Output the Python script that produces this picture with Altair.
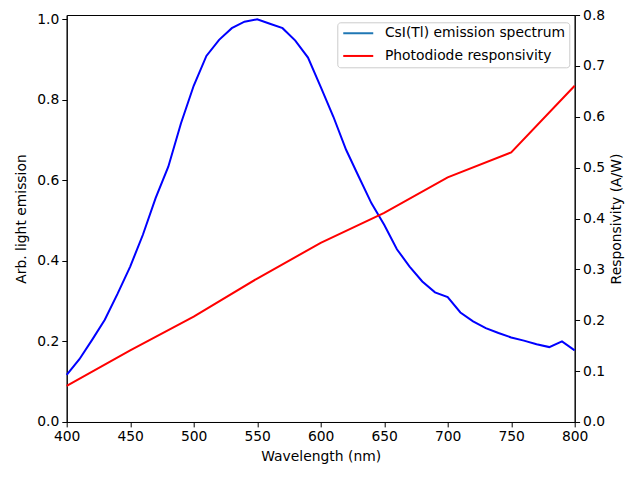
import altair as alt
import pandas as pd

wl_em = [400, 410, 420, 430, 440, 450, 460, 470, 480, 490, 500, 510, 520, 530, 540, 550,
         560, 570, 580, 590, 600, 610, 620, 630, 640, 650, 660, 670, 680, 690, 700, 710,
         720, 730, 740, 750, 760, 770, 780, 790, 800]
emission = [0.117, 0.156, 0.204, 0.254, 0.318, 0.386, 0.465, 0.556, 0.634, 0.742, 0.835,
            0.909, 0.949, 0.978, 0.994, 1.0, 0.989, 0.978, 0.947, 0.905, 0.832, 0.758,
            0.676, 0.609, 0.543, 0.490, 0.429, 0.386, 0.349, 0.322, 0.310, 0.272, 0.250,
            0.233, 0.221, 0.210, 0.202, 0.193, 0.186, 0.200, 0.178]

wl_pd = [400, 450, 500, 550, 600, 650, 700, 750, 800]
responsivity = [0.071, 0.141, 0.207, 0.282, 0.352, 0.411, 0.481, 0.530, 0.661]

names = ["CsI(Tl) emission spectrum", "Photodiode responsivity"]

df_em = pd.DataFrame({"wl": wl_em, "val": emission})
df_pd = pd.DataFrame({"wl": wl_pd, "val": responsivity})

FONT = "DejaVu Sans"
FS = 13.9

color_scale = alt.Scale(domain=names, range=["#1f77b4", "#ff0000"])
legend = alt.Legend(title=None, orient="none", legendX=270.6, legendY=7.3)
x_enc = alt.X("wl:Q", title="Wavelength (nm)",
              scale=alt.Scale(domain=[400, 800], nice=False, zero=False),
              axis=alt.Axis(values=[400, 450, 500, 550, 600, 650, 700, 750, 800], format="d",
                            titlePadding=6))

em = alt.Chart(df_em).mark_line(strokeWidth=2).encode(
    x=x_enc,
    y=alt.Y("val:Q", title="Arb. light emission",
            scale=alt.Scale(domain=[0, 1.0107], nice=False),
            axis=alt.Axis(values=[0, 0.2, 0.4, 0.6, 0.8, 1.0], format=".1f", orient="left",
                          titlePadding=8)),
    color=alt.Color("s:N", scale=color_scale, legend=legend),
    stroke=alt.value("#0000ff"),
).transform_calculate(s="'" + names[0] + "'")

pdl = alt.Chart(df_pd).mark_line(strokeWidth=2).encode(
    x=x_enc,
    y=alt.Y("val:Q", title="Responsivity (A/W)",
            scale=alt.Scale(domain=[0, 0.8], nice=False),
            axis=alt.Axis(values=[0, 0.1, 0.2, 0.3, 0.4, 0.5, 0.6, 0.7, 0.8], format=".1f",
                          orient="right", titleAngle=270, titlePadding=19)),
    color=alt.Color("s:N", scale=color_scale, legend=legend),
).transform_calculate(s="'" + names[1] + "'")

chart = alt.layer(em, pdl).resolve_scale(y="independent", color="shared").properties(
    width=508, height=407,
    autosize=alt.AutoSizeParams(type="none"),
    padding={"left": 58.7, "top": 7, "right": 50, "bottom": 50},
    background="white",
).configure_view(stroke="black", strokeWidth=1).configure_axis(
    grid=False, domainColor="black", tickColor="black", tickSize=4.9, labelPadding=3,
    labelFont=FONT, labelFontSize=FS, titleFont=FONT, titleFontSize=FS, labelFlush=False,
    titleFontWeight="normal", labelColor="black", titleColor="black", titlePadding=5,
).configure_legend(
    orient="none", legendX=270.6, legendY=7.3, symbolType="M-1,0H5",
    symbolSize=100, symbolStrokeWidth=2, labelFont=FONT, labelFontSize=FS,
    strokeColor="#cccccc", fillColor="white", padding=4, cornerRadius=3,
    rowPadding=7.7, labelOffset=29.7, labelLimit=400, labelColor="black",
)

chart.save("out.html", embed_options={"renderer": "svg", "actions": False})
